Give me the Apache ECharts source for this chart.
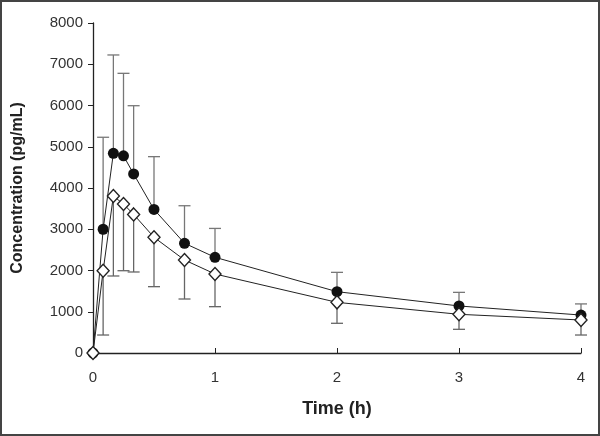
<!DOCTYPE html>
<html><head><meta charset="utf-8">
<script src="https://cdn.jsdelivr.net/npm/echarts@6/dist/echarts.min.js"></script>
<style>html,body{margin:0;padding:0;background:#fff}#c{width:600px;height:436px;box-sizing:border-box;border:2px solid #444}</style>
</head><body><div id="c"></div>
<script>
const times = [0, 0.083, 0.167, 0.25, 0.333, 0.5, 0.75, 1, 2, 3, 4];
const filledMean = [0, 3000, 4840, 4780, 4340, 3480, 2660, 2320, 1487, 1140, 920];
const filledUpper = [0, 5230, 7225, 6780, 5995, 4760, 3570, 3020, 1955, 1470, 1190];
const openMean = [0, 1995, 3805, 3610, 3360, 2805, 2255, 1915, 1228, 938, 800];
const openLower = [0, 436, 1867, 1995, 1964, 1608, 1309, 1123, 720, 574, 436];
const yTicks = [0, 1000, 2000, 3000, 4000, 5000, 6000, 7000, 8000];
const xTicks = [0, 1, 2, 3, 4];

const chart = echarts.init(document.getElementById('c'), null, {renderer: 'canvas'});
function errSeries(mean, bound, color) {
  return {
    type: 'custom', z: 1,
    data: times.map((t, i) => [t, mean[i], bound[i]]).filter((d, i) => i > 0),
    renderItem: function (params, api) {
      const p1 = api.coord([api.value(0), api.value(1)]);
      const p2 = api.coord([api.value(0), api.value(2)]);
      const w = 6;
      const st = {stroke: color, lineWidth: 1.3};
      return {type: 'group', children: [
        {type: 'line', shape: {x1: p1[0], y1: p1[1], x2: p2[0], y2: p2[1]}, style: st},
        {type: 'line', shape: {x1: p2[0] - w, y1: p2[1], x2: p2[0] + w, y2: p2[1]}, style: st}
      ]};
    }
  };
}
chart.setOption({
  animation: false,
  grid: {left: 91, right: 17, top: 21, bottom: 81},
  xAxis: {
    type: 'value', min: 0, max: 4, interval: 1,
    name: 'Time (h)', nameLocation: 'middle', nameGap: 47,
    nameTextStyle: {fontFamily: 'Liberation Sans', fontWeight: 'bold', fontSize: 18, color: '#222'},
    axisLine: {lineStyle: {color: '#222', width: 1.3}},
    axisTick: {inside: true, length: 5, lineStyle: {color: '#222'}},
    axisLabel: {fontFamily: 'Liberation Sans', fontSize: 15, color: '#333', margin: 17,
      formatter: v => xTicks.includes(v) ? String(v) : ''},
    splitLine: {show: false}
  },
  yAxis: {
    type: 'value', min: 0, max: 8000, interval: 1000,
    name: 'Concentration (pg/mL)', nameLocation: 'middle', nameGap: 67,
    nameTextStyle: {fontFamily: 'Liberation Sans', fontWeight: 'bold', fontSize: 16, color: '#222'},
    axisLine: {show: true, lineStyle: {color: '#222', width: 1.3}},
    axisTick: {show: true, length: 5, lineStyle: {color: '#222'}},
    axisLabel: {fontFamily: 'Liberation Sans', fontSize: 15, color: '#333', margin: 10,
      formatter: v => yTicks.includes(v) ? String(v) : ''},
    splitLine: {show: false}
  },
  series: [
    errSeries(filledMean, filledUpper, '#777'),
    errSeries(openMean, openLower, '#666'),
    {type: 'line', z: 3, data: times.map((t, i) => [t, filledMean[i]]),
      symbol: 'circle', symbolSize: 11,
      lineStyle: {color: '#222', width: 1},
      itemStyle: {color: '#111', borderColor: '#111', borderWidth: 0}},
    {type: 'line', z: 4, data: times.map((t, i) => [t, openMean[i]]),
      symbol: 'diamond', symbolSize: [12, 13],
      lineStyle: {color: '#222', width: 1},
      itemStyle: {color: '#fff', borderColor: '#222', borderWidth: 1.4}}
  ]
});
</script></body></html>
